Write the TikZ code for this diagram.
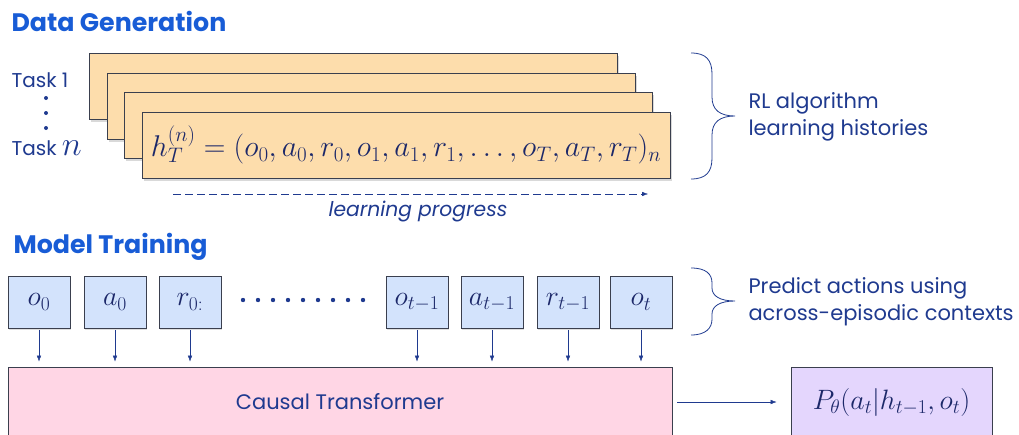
\RequirePackage{fix-cm}
\documentclass[tikz,border=0pt]{standalone}
\usepackage{fontspec}
\setmainfont{Poppins}
\usetikzlibrary{arrows.meta,shadows}
\definecolor{headblue}{RGB}{24,92,214}
\definecolor{ink}{RGB}{31,58,143}
\definecolor{mathink}{RGB}{28,40,105}
\definecolor{histfill}{RGB}{253,221,172}
\definecolor{tokfill}{RGB}{211,227,252}
\definecolor{tffill}{RGB}{255,214,229}
\definecolor{outfill}{RGB}{228,214,253}
\definecolor{boxedge}{RGB}{58,63,78}
\tikzset{
  heading/.style={anchor=base west, text=headblue, font=\fontsize{25.3}{30}\selectfont\bfseries},
  note/.style={anchor=west, align=left, text=ink, font=\fontsize{21}{27}\selectfont},
  hist/.style={draw=boxedge, thick, fill=histfill, minimum width=528pt, minimum height=66pt,
    inner sep=0pt, drop shadow={opacity=0.3, shadow xshift=1.5pt, shadow yshift=-2.5pt}},
  token/.style={draw=boxedge, thick, fill=tokfill, minimum width=62pt, minimum height=52pt,
    inner sep=0pt, text=mathink, font=\fontsize{28}{32}\selectfont,
    drop shadow={opacity=0.25, shadow xshift=1pt, shadow yshift=-1.5pt}},
  flow/.style={draw=ink, -{Latex[length=6pt,width=4.5pt]}},
  brace/.style={draw=ink, thick}
}
\begin{document}
\begin{tikzpicture}[x=1pt,y=-1pt]
\useasboundingbox (0,0) rectangle (1019,434);

% data generation
\node[heading] (gen) at (8,31) {Data Generation};
\node[note, anchor=base west, font=\fontsize{20}{24}\selectfont] (task1) at (8,87) {Task 1};
\node[note, anchor=base west, font=\fontsize{20}{24}\selectfont] (taskn) at (8,155) {Task \fontsize{34}{34}\selectfont$n$};
\fill[ink] (46,98) circle (2pt);
\fill[ink] (46,113) circle (2pt);
\fill[ink] (46,128) circle (2pt);

\node[hist] (h1) at (353.5,86.5) {};
\node[hist] (h2) at (371,106) {};
\node[hist] (h3) at (388.5,125.5) {};
\node[hist, text=mathink, font=\fontsize{30}{34}\selectfont] (h4) at (406,145)
  {$h_T^{(n)} = (o_0, a_0, r_0, o_1, a_1, r_1, \ldots, o_T, a_T, r_T)_n$};

\coordinate (lp1) at (173,194);
\coordinate (lp2) at (648,194);
\path[flow, dash pattern=on 8pt off 4pt] (lp1) -- (lp2);
\node[note, anchor=center, font=\fontsize{20.3}{24}\selectfont\itshape] (lp) at (418,212) {learning progress};

\path[brace] (691,53) .. controls (706,53) and (712,60) .. (712,74) -- (712,97)
  .. controls (712,110) and (720,116) .. (735,116)
  .. controls (720,116) and (712,122) .. (712,135) -- (712,158)
  .. controls (712,172) and (706,179) .. (691,179);
\node[note] (rl) at (745,117) {RL algorithm\\learning histories};

% model training
\node[heading] (train) at (10,253) {Model Training};

\node[token] (o0) at (39,302) {$o_0$};
\node[token] (a0) at (115,302) {$a_0$};
\node[token] (r0) at (190,302) {$r_{0:}$};
\foreach \i in {0,...,8}
  \fill[ink] (243+15*\i,300) circle (2.2pt);
\node[token] (o1) at (417,302) {$o_{t-1}$};
\node[token] (a1) at (492,302) {$a_{t-1}$};
\node[token] (r1) at (568,302) {$r_{t-1}$};
\node[token] (ot) at (641,302) {$o_t$};

\path[brace] (691,268) .. controls (706,268) and (712,274) .. (712,283) -- (712,288)
  .. controls (712,296) and (720,301) .. (735,301)
  .. controls (720,301) and (712,306) .. (712,314) -- (712,319)
  .. controls (712,328) and (706,335) .. (691,335);
\node[note] (pred) at (745,302) {Predict actions using\\across-episodic contexts};

\node[draw=boxedge, thick, fill=tffill, minimum width=664pt, minimum height=70pt,
  text=ink, font=\fontsize{21}{25}\selectfont] (tf) at (340,402) {Causal Transformer};
\node[draw=boxedge, thick, fill=outfill, minimum width=201pt, minimum height=70pt,
  text=mathink, font=\fontsize{28}{32}\selectfont] (out) at (891.5,402) {$P_\theta(a_t|h_{t-1},o_t)$};

\path[flow, shorten <=2pt, shorten >=5pt] (o0) -- (o0 |- tf.north);
\path[flow, shorten <=2pt, shorten >=5pt] (a0) -- (a0 |- tf.north);
\path[flow, shorten <=2pt, shorten >=5pt] (r0) -- (r0 |- tf.north);
\path[flow, shorten <=2pt, shorten >=5pt] (o1) -- (o1 |- tf.north);
\path[flow, shorten <=2pt, shorten >=5pt] (a1) -- (a1 |- tf.north);
\path[flow, shorten <=2pt, shorten >=5pt] (r1) -- (r1 |- tf.north);
\path[flow, shorten <=2pt, shorten >=5pt] (ot) -- (ot |- tf.north);
\path[flow, shorten <=5pt, shorten >=14pt] (tf) -- (out);
\end{tikzpicture}
\end{document}
